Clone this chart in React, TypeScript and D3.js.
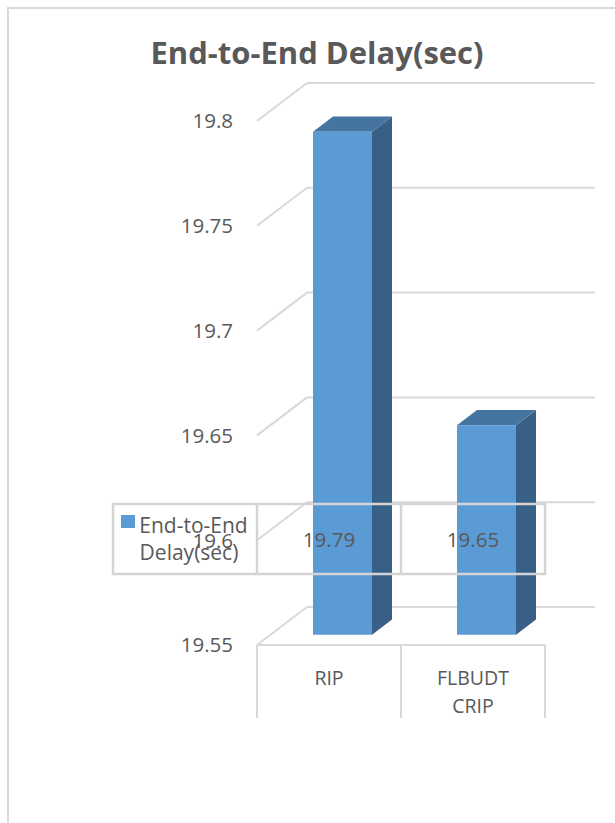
import React from "react";
import * as d3 from "d3";

// Chart data
const categories: string[][] = [["RIP"], ["FLBUDT", "CRIP"]];
const categoryKeys = ["RIP", "FLBUDT CRIP"];
const delayValues = [19.79, 19.65];
const seriesName = "End-to-End Delay(sec)";
const legendLines = ["End-to-End", "Delay(sec)"];
const yTicks = [19.55, 19.6, 19.65, 19.7, 19.75, 19.8];

const W = 615;
const H = 823;

// 3D projection: full depth shift of the floor / side wall
const DEPTH_DX = 50;
const DEPTH_DY = -38;
const BAR_FRONT = 0.27;
const BAR_BACK = 0.67;
const BAR_WIDTH = 59;

const FONT = "'Open Sans', 'Liberation Sans', sans-serif";
const TEXT = "#595959";
const GRID = "#d9d9d9";

export default function App() {
  // y on the back wall
  const yBack = d3.scaleLinear().domain([19.55, 19.8]).range([607, 83]);
  const yFront = (v: number) => yBack(v) - DEPTH_DY;
  const x = d3.scaleBand().domain(categoryKeys).range([257, 545]);
  const fmt = d3.format("");

  const wallLeftFront = 257;
  const wallLeftBack = wallLeftFront + DEPTH_DX;
  const wallRight = 595;
  const base = yTicks[0];

  const depth = (px: number, py: number, d: number): [number, number] => [
    px + d * DEPTH_DX,
    py + d * DEPTH_DY,
  ];

  const bars = categoryKeys.map((k, i) => {
    const v = delayValues[i];
    const cx = (x(k) as number) + x.bandwidth() / 2;
    const left = cx - BAR_WIDTH / 2;
    const right = cx + BAR_WIDTH / 2;
    const yTop = yFront(v);
    const yBot = yFront(base);
    const fTL = depth(left, yTop, BAR_FRONT);
    const fTR = depth(right, yTop, BAR_FRONT);
    const fBR = depth(right, yBot, BAR_FRONT);
    const fBL = depth(left, yBot, BAR_FRONT);
    const bTL = depth(left, yTop, BAR_BACK);
    const bTR = depth(right, yTop, BAR_BACK);
    const bBR = depth(right, yBot, BAR_BACK);
    const poly = (pts: [number, number][]) => pts.map((p) => p.join(",")).join(" ");
    return (
      <g key={k}>
        <polygon points={poly([fTR, bTR, bBR, fBR])} fill="#385F85" />
        <polygon points={poly([fTL, bTL, bTR, fTR])} fill="#4674A1" />
        <polygon points={poly([fTL, fTR, fBR, fBL])} fill="#5B9BD5" />
      </g>
    );
  });

  // Data table layout
  const tableTop = 504;
  const tableBottom = 574;
  const tableLeft = 113;
  const tableRight = 545;

  return (
    <svg
      width={W}
      height={H}
      style={{ position: "absolute", left: 0, top: 0, display: "block", background: "#fff" }}
    >
      <rect x={0} y={0} width={W} height={H} fill="#ffffff" />
      {/* chart area border */}
      <path d={`M8,${H} V8 H${W}`} fill="none" stroke={GRID} strokeWidth={2} />

      <text
        x={317}
        y={64}
        textAnchor="middle"
        fontFamily={FONT}
        fontWeight={700}
        fontSize={31}
        fill={TEXT}
      >
        {seriesName}
      </text>

      {/* back wall gridlines and side wall diagonals */}
      {yTicks.map((t) => (
        <g key={t}>
          <line x1={wallLeftBack} x2={wallRight} y1={yBack(t)} y2={yBack(t)} stroke={GRID} strokeWidth={2} />
          <line x1={wallLeftFront} y1={yFront(t)} x2={wallLeftBack} y2={yBack(t)} stroke={GRID} strokeWidth={2} />
          <text
            x={233}
            y={yFront(t)}
            dy="0.36em"
            textAnchor="end"
            fontFamily={FONT}
            fontSize={20.5}
            fill={TEXT}
          >
            {fmt(t)}
          </text>
        </g>
      ))}

      {/* category axis table */}
      <g stroke={GRID} strokeWidth={2}>
        <line x1={257} x2={545} y1={yFront(base)} y2={yFront(base)} />
        {[257, 257 + x.bandwidth(), 545].map((vx) => (
          <line key={vx} x1={vx} x2={vx} y1={yFront(base)} y2={718} />
        ))}
      </g>
      {categories.map((lines, i) => {
        const cx = (x(categoryKeys[i]) as number) + x.bandwidth() / 2;
        return (
          <text key={i} textAnchor="middle" fontFamily={FONT} fontSize={19.5} fill={TEXT}>
            {lines.map((ln, j) => (
              <tspan key={j} x={cx} y={685 + j * 28}>
                {ln}
              </tspan>
            ))}
          </text>
        );
      })}

      {bars}

      {/* data table with legend key */}
      <g stroke="#d4d4d4" strokeWidth={2.5} fill="none">
        <rect x={tableLeft} y={tableTop} width={tableRight - tableLeft} height={tableBottom - tableTop} />
        <line x1={257} x2={257} y1={tableTop} y2={tableBottom} />
        <line x1={257 + x.bandwidth()} x2={257 + x.bandwidth()} y1={tableTop} y2={tableBottom} />
      </g>
      <rect x={121} y={515} width={14} height={13} fill="#5B9BD5" />
      <text textAnchor="middle" fontFamily={FONT} fontSize={21} fill={TEXT}>
        {legendLines.map((ln, j) => (
          <tspan key={j} x={j === 0 ? 193.5 : 189} y={533 + j * 27}>
            {ln}
          </tspan>
        ))}
      </text>
      {delayValues.map((v, i) => (
        <text
          key={i}
          x={(x(categoryKeys[i]) as number) + x.bandwidth() / 2}
          y={547}
          textAnchor="middle"
          fontFamily={FONT}
          fontSize={20.5}
          fill={TEXT}
        >
          {fmt(v)}
        </text>
      ))}
    </svg>
  );
}
